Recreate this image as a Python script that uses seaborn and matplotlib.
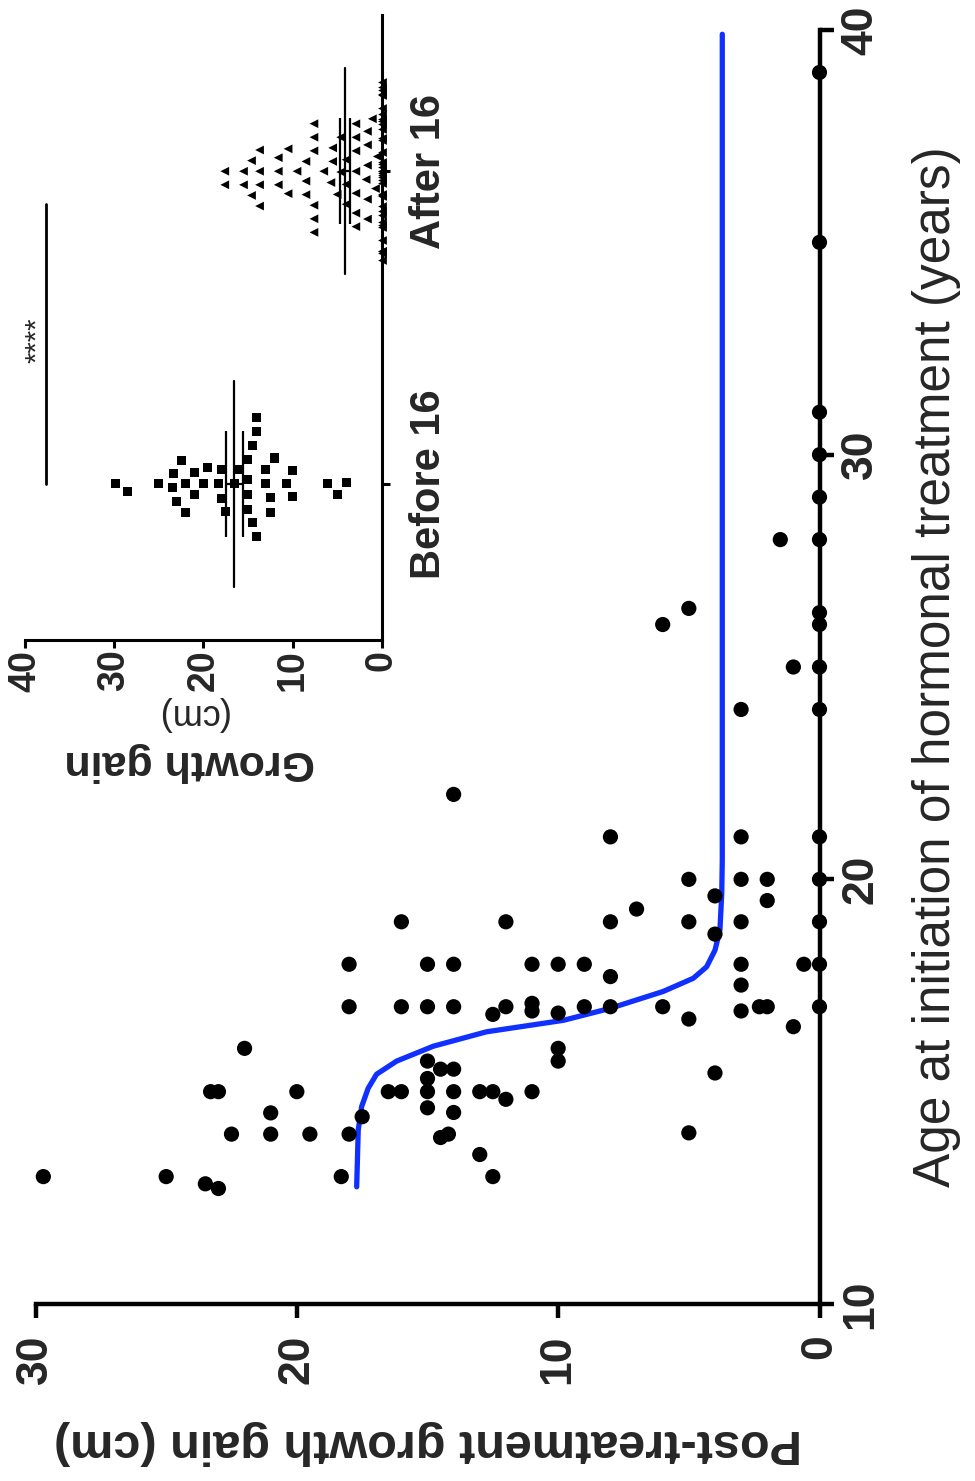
import numpy as np
import pandas as pd
import matplotlib
matplotlib.use("Agg")
import matplotlib.pyplot as plt
import seaborn as sns

sns.set_theme(style="white")
plt.rcParams["font.family"] = ["Liberation Sans", "DejaVu Sans"]
np.random.seed(7)

# ---------------- main scatter data ----------------
scatter_gain = [29.7, 25.0, 23.5, 23.0, 18.3, 12.5, 13.0,
                22.5, 21.0, 19.5, 18.0, 14.2, 14.5, 21.0, 17.5, 15.0, 14.0, 12.0, 5.0,
                23.3, 23.0, 20.0, 16.5, 16.0, 15.0, 14.0, 13.0, 12.5, 11.0, 15.0, 14.5, 14.0, 15.0, 10.0, 4.0,
                22.0, 10.0,
                12.5, 11.0, 11.0, 10.0, 18.0, 16.0, 15.0, 14.0, 12.0, 9.0, 8.0, 6.0, 3.0, 2.3, 2.0, 0.0, 5.0, 1.0,
                18.0, 15.0, 14.0, 11.0, 10.0, 9.0, 8.0, 3.0, 0.6, 0.0, 3.0, 4.0,
                16.0, 12.0, 8.0, 5.0, 3.0, 0.0, 7.0, 2.0, 4.0,
                5.0, 3.0, 2.0, 0.0,
                8.0, 3.0, 0.0,
                14.0,
                3.0, 0.0,
                1.0, 0.0,
                6.0, 5.0, 0.0, 0.0,
                1.5, 0.0,
                0.0, 0.0, 0.0, 0.0, 0.0]
scatter_age = [13.0, 13.0, 12.83, 12.72, 13.0, 13.0, 13.52,
               14.0, 14.0, 14.0, 14.0, 14.0, 13.92, 14.5, 14.41, 14.62, 14.51, 14.82, 14.03,
               15.0, 15.0, 15.0, 15.0, 15.0, 15.0, 15.0, 15.0, 15.0, 15.0, 15.31, 15.53, 15.53, 15.72, 15.72, 15.44,
               16.02, 16.02,
               16.82, 17.08, 16.9, 16.85, 17.0, 17.0, 17.0, 17.0, 17.0, 17.0, 17.0, 17.0, 16.9, 17.0, 17.0, 17.0, 16.71, 16.53,
               18.0, 18.0, 18.0, 18.0, 18.0, 18.0, 17.71, 18.0, 18.0, 18.0, 17.51, 18.71,
               19.0, 19.0, 19.0, 19.0, 19.0, 19.0, 19.3, 19.5, 19.61,
               20.0, 20.0, 20.0, 20.0,
               21.0, 21.0, 21.0,
               22.0,
               24.0, 24.0,
               25.0, 25.0,
               26.0, 26.38, 26.28, 26.0,
               28.0, 28.0,
               29.0, 30.0, 31.0, 35.0, 39.0]

# fitted curve
curve_age = [12.76, 14.1, 14.65, 15.08, 15.41, 15.72, 16.07, 16.41, 16.68, 16.96,
             17.36, 17.67, 17.94, 18.33, 18.81, 19.67, 20.45, 39.9]
curve_gain = [17.71, 17.65, 17.52, 17.27, 16.95, 16.18, 14.78, 12.74, 9.8, 8.02,
              5.98, 4.83, 4.32, 4.0, 3.81, 3.74, 3.72, 3.72]

gain_ticks = [0, 10, 20, 30]
age_ticks = [10, 20, 30, 40]

# ---------------- inset data ----------------
groups = ["Before 16", "After 16"]
before_gain = [29.8, 28.5, 25.0, 23.5, 23.06, 21.0, 22.0, 19.55, 20.0, 22.0, 21.0, 22.5, 23.3,
               17.5, 18.0, 18.0, 18.3, 16.1, 16.5, 15.0, 15.0, 15.0, 15.0, 14.5, 13.0, 14.0,
               12.5, 10.0, 14.0, 12.0, 10.0, 14.0, 12.5, 10.7, 14.5, 13.0, 6.1, 5.0, 4.0]
after_nonzero = [17.6, 17.6, 15.5, 15.5, 14.6, 14.6, 13.7, 13.7, 13.7, 13.7, 11.6, 11.6, 11.6,
                 10.5, 10.5, 9.5, 8.5, 8.5, 8.5, 7.6, 7.6, 7.6, 7.6, 7.6, 7.6,
                 6.5, 5.7, 5.5, 5.5, 5.0, 4.6, 4.6, 4.0, 4.0, 4.0,
                 2.9, 2.9, 2.9, 2.9, 2.9, 2.9, 2.9,
                 1.75, 1.6, 1.6, 1.6, 1.6, 1.6, 1.05, 0.7, 0.5]
after_zero_count = 38
after_zeros = [0.0] * after_zero_count
after_gain = after_nonzero + after_zeros
inset_ticks = [0, 10, 20, 30, 40]
sig_value = 37.6
sig_span = [0.0, 0.895]

# ---------------- figure ----------------
W, H = 975, 1481
fig = plt.figure(figsize=(W / 100, H / 100), dpi=100)


def rect(l, t, r, b):
    return [l / W, 1 - b / H, (r - l) / W, (b - t) / H]


ax = fig.add_axes(rect(35.5, 30, 819.5, 1304))
sns.lineplot(x=curve_gain, y=curve_age, orient="y", ax=ax, color="#1030ff",
             lw=3.8, zorder=2, estimator=None)
sns.scatterplot(x=scatter_gain, y=scatter_age, ax=ax, color="black", s=120,
                edgecolor="none", linewidth=0, clip_on=False, zorder=3)
ax.set_xlim(30, 0)
ax.set_ylim(10, 40)
for s in ["top", "left"]:
    ax.spines[s].set_visible(False)
for s in ["bottom", "right"]:
    ax.spines[s].set_linewidth(3.2)
    ax.spines[s].set_color("black")
ax.yaxis.tick_right()
ax.yaxis.set_label_position("right")
ax.set_xticks(gain_ticks)
ax.set_xticklabels([str(t) for t in gain_ticks], rotation=90, fontweight="bold",
                   fontsize=32, ha="center", va="top")
ax.set_yticks(age_ticks)
ax.set_yticklabels([str(t) for t in age_ticks], rotation=90, fontweight="bold",
                   fontsize=32, va="center", ha="left")
ax.tick_params(axis="both", direction="out", length=10, width=3.2, color="black",
               bottom=True, right=True, left=False, top=False)
ax.tick_params(axis="x", pad=12)
ax.tick_params(axis="y", pad=5)
ax.set_xlabel("Post-treatment growth gain (cm)", rotation=180, fontsize=35,
              fontweight="bold", labelpad=26)
ax.set_ylabel("Age at initiation of hormonal treatment (years)", rotation=90,
              fontsize=37, labelpad=22)
ax.grid(False)

# ---------------- inset ----------------
axin = fig.add_axes(rect(25, 15, 381.7, 640))
df_b = pd.DataFrame({"gain": before_gain, "group": groups[0]})
df_a = pd.DataFrame({"gain": after_nonzero, "group": groups[1]})
df_z = pd.DataFrame({"gain": after_zeros, "group": groups[1]})
sns.swarmplot(data=df_b, x="gain", y="group", order=groups, orient="h", marker="s",
              color="black", size=6.5, edgecolor="none", linewidth=3.5, ax=axin,
              warn_thresh=1)
sns.swarmplot(data=df_a, x="gain", y="group", order=groups, orient="h", marker="<",
              color="black", size=6.3, edgecolor="none", linewidth=3.0, ax=axin,
              warn_thresh=1)
n_before = len(axin.collections)
sns.stripplot(data=df_z, x="gain", y="group", order=groups, orient="h", marker="<",
              color="black", size=6.3, linewidth=0, jitter=0.3, ax=axin)
for coll in axin.collections[n_before:]:
    coll.set_clip_on(False)
for i, vals in enumerate([before_gain, after_gain]):
    v = np.asarray(vals)
    m = v.mean()
    sem = v.std(ddof=1) / np.sqrt(len(v))
    axin.plot([m, m], [i - 0.33, i + 0.33], color="black", lw=1.6, zorder=4)
    axin.errorbar(m, i, xerr=sem, color="black", lw=1.6, capsize=38, capthick=1.6,
                  zorder=4)
axin.plot([sig_value, sig_value], sig_span, color="black", lw=2.0)
axin.text(38.6, 0.46, "****", rotation=90, fontsize=21,
          ha="center", va="center")
axin.set_xlim(40, 0)
axin.set_ylim(-0.5, 1.5)
axin.patch.set_alpha(0)
for s in ["top", "left"]:
    axin.spines[s].set_visible(False)
for s in ["bottom", "right"]:
    axin.spines[s].set_linewidth(2.2)
    axin.spines[s].set_color("black")
axin.yaxis.tick_right()
axin.set_xticks(inset_ticks)
axin.set_xticklabels([str(t) for t in inset_ticks], rotation=90, fontweight="bold",
                     fontsize=27, ha="center", va="top")
axin.set_yticks([0, 1])
axin.set_yticklabels(groups, rotation=90, fontweight="bold", fontsize=30,
                     va="center", ha="left")
axin.tick_params(axis="both", direction="out", length=6, width=2.2, color="black",
                 bottom=True, right=True, left=False, top=False)
axin.tick_params(axis="y", pad=14)
axin.tick_params(axis="x", pad=1)
axin.set_xlabel("")
axin.set_ylabel("")
axin.grid(False)
fig.text(190 / W, 1 - 762 / H, "Growth gain", rotation=180, fontsize=31,
         fontweight="bold", ha="center", va="center")
fig.text(192 / W, 1 - 714 / H, "(cm)", rotation=180, fontsize=26,
         ha="center", va="center")

fig.savefig("out.png", dpi=100)
